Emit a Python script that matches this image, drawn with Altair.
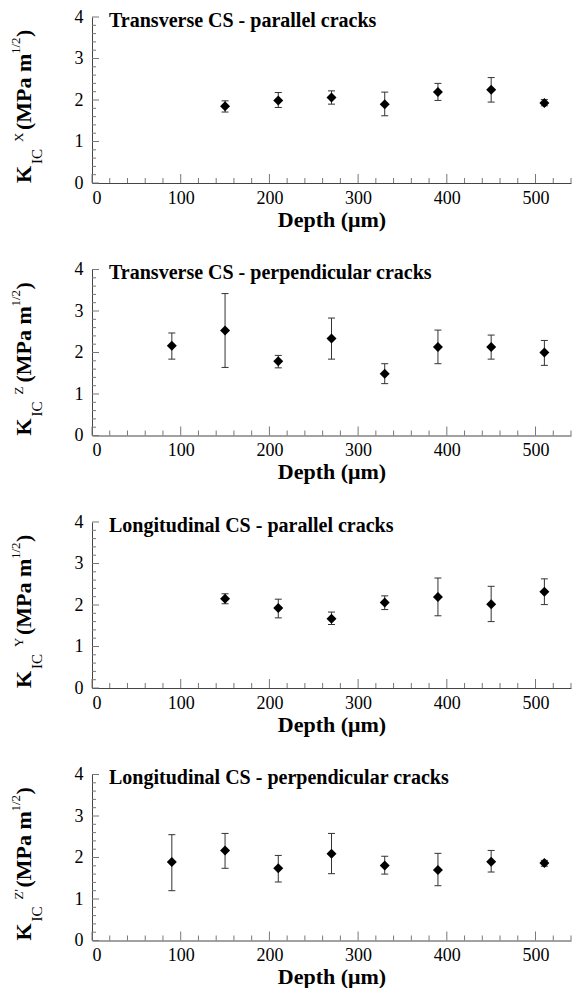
import altair as alt
import pandas as pd

FONT = "'Liberation Serif', 'Times New Roman', Times, 'DejaVu Serif', serif"

# ---------------- data ----------------
depth_1 = [150, 210, 270, 330, 390, 450, 510]
k_1 = [1.85, 1.99, 2.06, 1.90, 2.19, 2.25, 1.93]
lo_1 = [1.71, 1.82, 1.90, 1.62, 1.99, 1.95, 1.86]
hi_1 = [1.98, 2.18, 2.22, 2.19, 2.40, 2.54, 2.01]

depth_2 = [90, 150, 210, 270, 330, 390, 450, 510]
k_2 = [2.16, 2.53, 1.79, 2.34, 1.49, 2.13, 2.13, 2.00]
lo_2 = [1.84, 1.64, 1.63, 1.84, 1.25, 1.73, 1.84, 1.69]
hi_2 = [2.47, 3.42, 1.93, 2.83, 1.73, 2.54, 2.42, 2.29]

depth_3 = [150, 210, 270, 330, 390, 450, 510]
k_3 = [2.15, 1.93, 1.67, 2.06, 2.19, 2.02, 2.32]
lo_3 = [2.03, 1.69, 1.53, 1.89, 1.74, 1.60, 2.01]
hi_3 = [2.27, 2.14, 1.83, 2.22, 2.65, 2.45, 2.63]

depth_4 = [90, 150, 210, 270, 330, 390, 450, 510]
k_4 = [1.89, 2.17, 1.74, 2.09, 1.81, 1.70, 1.90, 1.87]
lo_4 = [1.20, 1.74, 1.41, 1.61, 1.60, 1.32, 1.65, 1.79]
hi_4 = [2.55, 2.58, 2.05, 2.58, 2.03, 2.10, 2.17, 1.93]

panel_titles = [
    "Transverse CS - parallel cracks",
    "Transverse CS - perpendicular cracks",
    "Longitudinal CS - parallel cracks",
    "Longitudinal CS - perpendicular cracks",
]
k_superscripts = ["X", "Z", "Y", "Z'"]

x_major = [0, 100, 200, 300, 400, 500]
x_minor = [20, 40, 60, 80, 120, 140, 160, 180, 220, 240, 260, 280,
           320, 340, 360, 380, 420, 440, 460, 480, 520, 540]
y_major = [0, 1, 2, 3, 4]
y_minor = [0.2, 0.4, 0.6, 0.8, 1.2, 1.4, 1.6, 1.8, 2.2, 2.4, 2.6, 2.8,
           3.2, 3.4, 3.6, 3.8]

x_title = "Depth (μm)"

series = [
    (depth_1, k_1, lo_1, hi_1),
    (depth_2, k_2, lo_2, hi_2),
    (depth_3, k_3, lo_3, hi_3),
    (depth_4, k_4, lo_4, hi_4),
]

W, H = 479, 166
AXIS_COLOR = "#444444"
TICK_COLOR = "#777777"
BAR_COLOR = "#333333"

xs = alt.Scale(domain=[0, 540], nice=False, zero=False)
ys = alt.Scale(domain=[0, 4], nice=False)

x_axis = alt.Axis(values=x_major, title=x_title, grid=False, ticks=False, tickSize=0,
                  domainColor=AXIS_COLOR, domainWidth=1,
                  labelFont=FONT, labelFontSize=18, labelColor="black",
                  labelPadding=6, format="d",
                  titleFont=FONT, titleFontSize=22, titleFontWeight="bold",
                  titleColor="black", titleBaseline="alphabetic", titleY=43)
y_axis = alt.Axis(values=y_major, title=None, grid=False, ticks=False, tickSize=0,
                  domainColor=AXIS_COLOR, domainWidth=1,
                  labelFont=FONT, labelFontSize=18, labelColor="black",
                  labelPadding=9, format="d")


def X(field):
    return alt.X(field, type="quantitative", scale=xs, axis=x_axis)


def Y(field):
    return alt.Y(field, type="quantitative", scale=ys, axis=y_axis)


one = alt.Data(values=[{"a": 1}])


def ytitle_part(text, x, y, size, weight):
    return alt.Chart(one).mark_text(
        text=text, angle=270, align="left", baseline="alphabetic",
        font=FONT, fontSize=size, fontWeight=weight, color="black"
    ).encode(x=alt.value(x), y=alt.value(y))


def panel(i):
    d, k, lo, hi = series[i]
    df = pd.DataFrame({"depth": d, "k": k, "lo": lo, "hi": hi})
    base = alt.Chart(df)

    bars = base.mark_rule(color=BAR_COLOR, strokeWidth=1).encode(
        x=X("depth"), y=Y("lo"), y2="hi")
    cap_lo = base.mark_rule(color=BAR_COLOR, strokeWidth=1, xOffset=-3.5, x2Offset=3.5).encode(
        x=X("depth"), x2="depth", y=Y("lo"))
    cap_hi = base.mark_rule(color=BAR_COLOR, strokeWidth=1, xOffset=-3.5, x2Offset=3.5).encode(
        x=X("depth"), x2="depth", y=Y("hi"))
    pts = base.mark_point(shape="diamond", filled=True, size=100, color="black",
                          opacity=1).encode(x=X("depth"), y=Y("k"))

    xmaj = alt.Chart(pd.DataFrame({"v": x_major})).mark_rule(color=TICK_COLOR).encode(
        x=X("v"), y=alt.value(H), y2=alt.value(H - 9))
    xmin = alt.Chart(pd.DataFrame({"v": x_minor})).mark_rule(color=TICK_COLOR).encode(
        x=X("v"), y=alt.value(H), y2=alt.value(H - 5))
    ymaj = alt.Chart(pd.DataFrame({"v": y_major})).mark_rule(color=TICK_COLOR).encode(
        y=Y("v"), x=alt.value(0), x2=alt.value(7))
    ymin = alt.Chart(pd.DataFrame({"v": y_minor})).mark_rule(color=TICK_COLOR).encode(
        y=Y("v"), x=alt.value(0), x2=alt.value(4))

    title = alt.Chart(one).mark_text(
        text=panel_titles[i], align="left", baseline="alphabetic",
        font=FONT, fontSize=20, fontWeight="bold", color="black"
    ).encode(x=alt.value(17), y=alt.value(9.5))

    yt = [
        ytitle_part("K", -61, H + 0, 22, "bold"),
        ytitle_part("IC", -50, H - 19, 15, "normal"),
        ytitle_part(k_superscripts[i], -69, H - 41, 13, "normal"),
        ytitle_part("(MPa m", -61, H - 53, 22, "bold"),
        ytitle_part("1/2", -72, H - 129, 13, "normal"),
        ytitle_part(")", -61, H - 146, 22, "bold"),
    ]

    return alt.layer(xmaj, xmin, ymaj, ymin, bars, cap_lo, cap_hi, pts, title, *yt).properties(
        width=W, height=H)


chart = alt.vconcat(*[panel(i) for i in range(4)], spacing=86.5, bounds="flush").properties(
    padding={"left": 2, "top": 0, "right": 0, "bottom": 0},
    autosize=alt.AutoSizeParams(type="pad")
).configure_view(stroke=None)

chart.save("out.html", embed_options={"renderer": "svg", "actions": False})
